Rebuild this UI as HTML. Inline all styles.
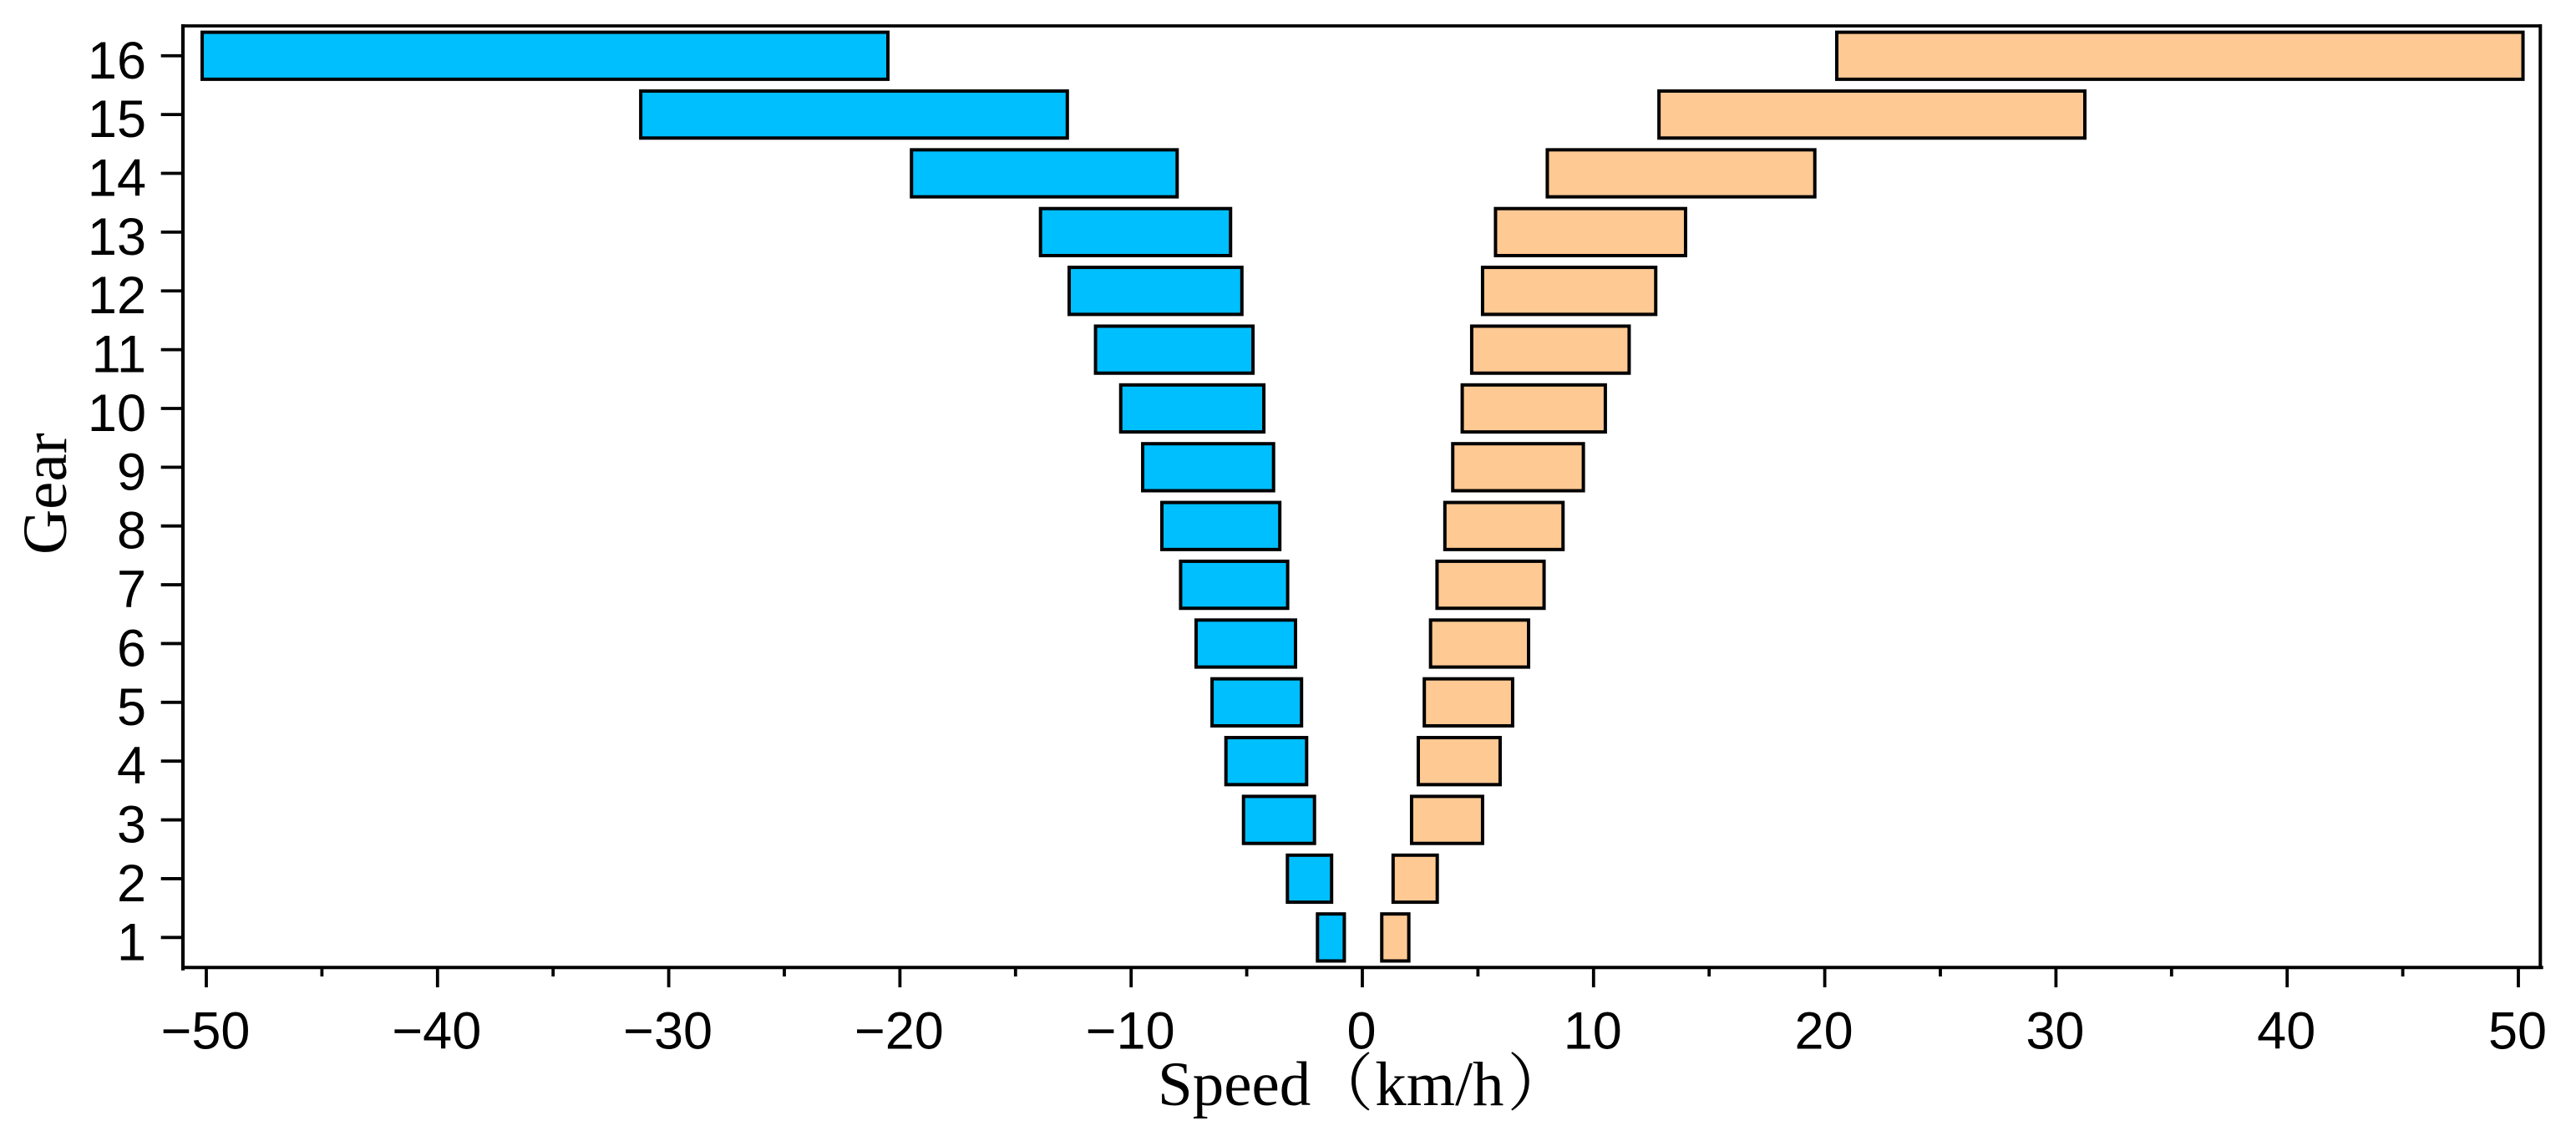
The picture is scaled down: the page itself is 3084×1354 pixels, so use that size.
<!DOCTYPE html>
<html lang="en">
<head>
<meta charset="utf-8">
<title>Gear speed ranges</title>
<style>
  html, body { margin: 0; padding: 0; background: #fff; }
  body { width: 3084px; height: 1354px; overflow: hidden; }
  svg { display: block; }
  .tick-label { font-family: "Liberation Sans", Arial, sans-serif; font-size: 63px; fill: #000; }
  .axis-title { font-family: "Liberation Serif", "Noto Serif CJK SC", serif; font-size: 75px; fill: #000; }
</style>
</head>
<body>
<svg id="chart" xmlns="http://www.w3.org/2000/svg" width="3084" height="1354" viewBox="0 0 3084 1354">
  <rect x="0" y="0" width="3084" height="1354" fill="#ffffff"/>
  <g id="bars"></g>
  <g id="x-ticks"></g>
  <g id="y-ticks"></g>
  <line x1="217" y1="31" x2="3043" y2="31" stroke="#000" stroke-width="3.8"/>
  <line x1="3041.3" y1="29" x2="3041.3" y2="1160" stroke="#000" stroke-width="4"/>
  <line x1="219" y1="29" x2="219" y2="1161.7" stroke="#000" stroke-width="4.2"/>
  <line x1="217" y1="1158.3" x2="3044.7" y2="1158.3" stroke="#000" stroke-width="4"/>
  <text class="axis-title" x="1386" y="1323">Speed（<tspan dx="2">km/h</tspan><tspan dx="4">）</tspan></text>
  <text class="axis-title" transform="translate(79 664) rotate(-90)" x="0" y="0">Gear</text>
</svg>
<script>
const gears = [1, 2, 3, 4, 5, 6, 7, 8, 9, 10, 11, 12, 13, 14, 15, 16];
const reverseOuter = [-1.94, -3.24, -5.14, -5.90, -6.50, -7.19, -7.86, -8.67, -9.50, -10.45, -11.54, -12.68, -13.92, -19.50, -31.21, -50.18];
const reverseInner = [-0.78, -1.33, -2.07, -2.41, -2.63, -2.89, -3.23, -3.57, -3.84, -4.26, -4.73, -5.21, -5.70, -8.01, -12.76, -20.52];
const forwardInner = [0.84, 1.33, 2.13, 2.42, 2.68, 2.95, 3.23, 3.57, 3.91, 4.32, 4.73, 5.20, 5.76, 8.00, 12.83, 20.52];
const forwardOuter = [2.01, 3.24, 5.20, 5.96, 6.50, 7.19, 7.86, 8.68, 9.56, 10.51, 11.54, 12.69, 13.98, 19.57, 31.25, 50.20];
const xMajorTicks = [-50, -40, -30, -20, -10, 0, 10, 20, 30, 40, 50];
const xMinorTicks = [-45, -35, -25, -15, -5, 5, 15, 25, 35, 45];

const SVG_NS = "http://www.w3.org/2000/svg";
const xZero = 1631;
const xPerUnit = 27.68;
const yGearOne = 1122.3;
const yPerGear = 70.37;
const barHeightUnits = 0.8;

function xScale(v) { return xZero + v * xPerUnit; }
function yScale(g) { return yGearOne - (g - 1) * yPerGear; }

const barsGroup = document.getElementById("bars");
const xTicksGroup = document.getElementById("x-ticks");
const yTicksGroup = document.getElementById("y-ticks");

function drawBar(gear, a, b, fill) {
  const rect = document.createElementNS(SVG_NS, "rect");
  const h = barHeightUnits * yPerGear;
  rect.setAttribute("x", xScale(Math.min(a, b)));
  rect.setAttribute("y", yScale(gear) - h / 2);
  rect.setAttribute("width", Math.abs(xScale(b) - xScale(a)));
  rect.setAttribute("height", h);
  rect.setAttribute("fill", fill);
  rect.setAttribute("stroke", "#000");
  rect.setAttribute("stroke-width", "4");
  barsGroup.appendChild(rect);
  return rect;
}

gears.forEach(function (gear, i) {
  const reverseBar = drawBar(gear, reverseOuter[i], reverseInner[i], "#00BFFF");
  
  

  const forwardBar = drawBar(gear, forwardInner[i], forwardOuter[i], "#FFC993");
  
  

  const tick = document.createElementNS(SVG_NS, "line");
  
  
  tick.setAttribute("x1", 192.7);
  tick.setAttribute("x2", 219);
  tick.setAttribute("y1", yScale(gear));
  tick.setAttribute("y2", yScale(gear));
  tick.setAttribute("stroke", "#000");
  tick.setAttribute("stroke-width", "3.8");
  yTicksGroup.appendChild(tick);

  const label = document.createElementNS(SVG_NS, "text");
  
  
  label.setAttribute("class", "tick-label");
  label.setAttribute("x", 175);
  label.setAttribute("y", yScale(gear) + 27);
  label.setAttribute("text-anchor", "end");
  label.textContent = String(gear);
  yTicksGroup.appendChild(label);
});

xMajorTicks.forEach(function (v) {
  const tick = document.createElementNS(SVG_NS, "line");
  
  
  tick.setAttribute("x1", xScale(v));
  tick.setAttribute("x2", xScale(v));
  tick.setAttribute("y1", 1158.3);
  tick.setAttribute("y2", 1182);
  tick.setAttribute("stroke", "#000");
  tick.setAttribute("stroke-width", "3.8");
  xTicksGroup.appendChild(tick);

  const label = document.createElementNS(SVG_NS, "text");
  
  
  label.setAttribute("class", "tick-label");
  label.setAttribute("x", xScale(v) - 1);
  label.setAttribute("y", 1255.7);
  label.setAttribute("text-anchor", "middle");
  label.textContent = v < 0 ? "\u2212" + Math.abs(v) : String(v);
  xTicksGroup.appendChild(label);
});

xMinorTicks.forEach(function (v) {
  const tick = document.createElementNS(SVG_NS, "line");
  
  
  tick.setAttribute("x1", xScale(v));
  tick.setAttribute("x2", xScale(v));
  tick.setAttribute("y1", 1158.3);
  tick.setAttribute("y2", 1169);
  tick.setAttribute("stroke", "#000");
  tick.setAttribute("stroke-width", "3.8");
  xTicksGroup.appendChild(tick);
});
</script>
</body>
</html>
